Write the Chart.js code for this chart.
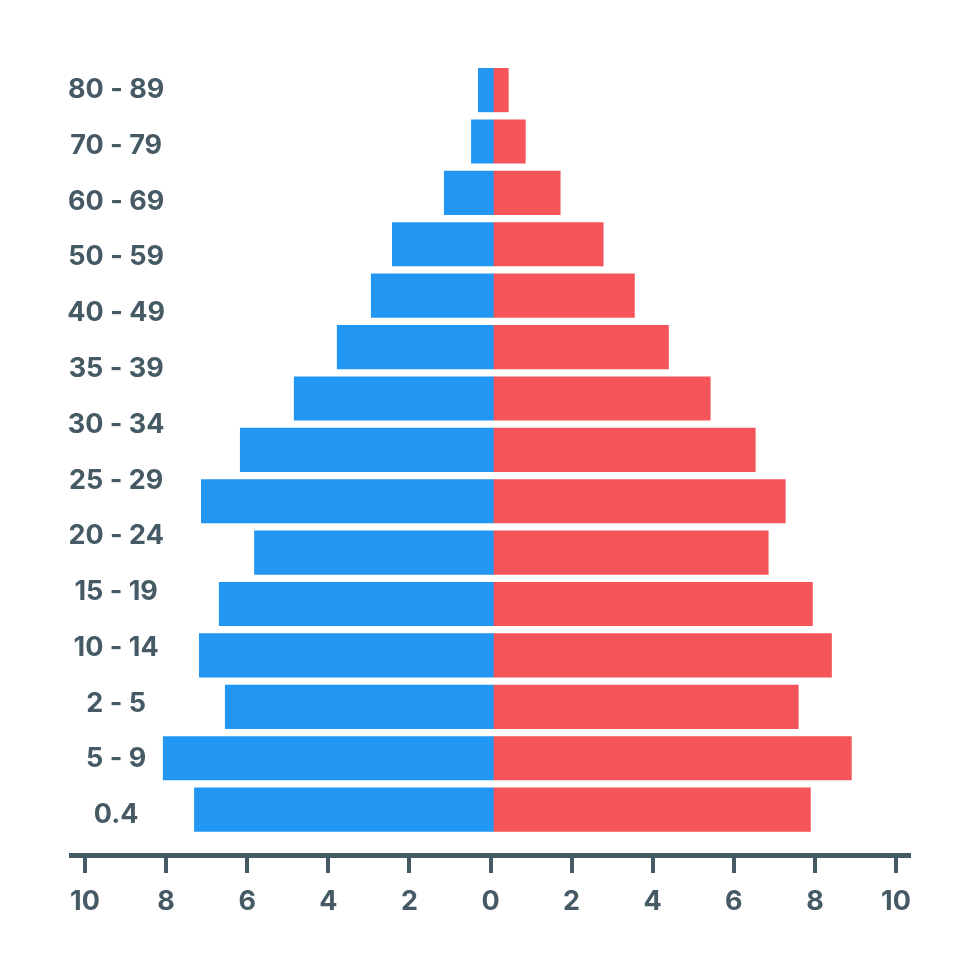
<!DOCTYPE html>
<html>
<head>
<meta charset="utf-8">
<script src="https://cdn.jsdelivr.net/npm/chart.js@4"></script>
<style>
    html, body { margin: 0; padding: 0; background: #fff; }
    canvas { display: block; }
</style>
</head>
<body>
<canvas id="pyramid" width="980" height="980"></canvas>
<script>
// age labels: there are 14 of them but 15 bars in the picture, they do not line up
const AGE_LABELS = ["80 - 89", "70 - 79", "60 - 69", "50 - 59", "40 - 49", "35 - 39", "30 - 34",
    "25 - 29", "20 - 24", "15 - 19", "10 - 14", "2 - 5", "5 - 9", "0.4"];
const BLUE_VALUES = [0.37, 0.54, 1.21, 2.49, 3.01, 3.85, 4.91, 6.24, 7.2, 5.89, 6.76, 7.25, 6.61, 8.14, 7.37];
const RED_VALUES = [0.37, 0.79, 1.65, 2.71, 3.48, 4.32, 5.35, 6.46, 7.2, 6.78, 7.87, 8.34, 7.52, 8.83, 7.82];
const X_TICKS = [-10, -8, -6, -4, -2, 0, 2, 4, 6, 8, 10];

const TEXT_COLOR = "#455a64";
const FONT = { family: "Inter", size: 27, weight: "bold" };

const toBars = (values, sign)=>values.map((v, i)=>({ x: sign * v, y: i }));

// the age labels sit over the chart area, so give their axis its box back after layout
const labelBoxPlugin = {
    id: "labelBox",
    afterLayout: (chart)=>{
        const scale = chart.scales.yLabels;
        scale.left = 0;
        scale.right = 165;
    },
};

const createChart = ()=>{
    const canvas = document.querySelector("#pyramid");
    new Chart(canvas, {
        type: "bar",
        plugins: [labelBoxPlugin],
        data: {
            datasets: [
                { label: "Left", data: toBars(BLUE_VALUES, -1), backgroundColor: "#2196f3", xAxisID: "xBars", yAxisID: "yBars", grouped: false, barThickness: 43.5 },
                { label: "Right", data: toBars(RED_VALUES, 1), backgroundColor: "#f55459", xAxisID: "xBars", yAxisID: "yBars", grouped: false, barThickness: 43.5 },
            ],
        },
        options: {
            indexAxis: "y",
            responsive: false,
            animation: false,
            layout: { padding: { left: 71, right: 71, top: 40, bottom: 65 } },
            plugins: { legend: { display: false }, tooltip: { enabled: false } },
            scales: {
                // the visible axis has its zero a little left of the bars' zero
                x: {
                    type: "linear",
                    position: "bottom",
                    min: -10.345,
                    max: 10.32,
                    grid: { drawOnChartArea: false, color: TEXT_COLOR, lineWidth: 4, tickLength: 18 },
                    border: { color: TEXT_COLOR, width: 5 },
                    ticks: {
                        color: TEXT_COLOR, font: FONT, padding: 13, maxRotation: 0, autoSkip: false,
                        callback: (v)=>Math.abs(v),
                    },
                    afterBuildTicks: (scale)=>{ scale.ticks = X_TICKS.map((v)=>({ value: v })); },
                    afterFit: (scale)=>{ scale.height = 60; },
                },
                xBars: { type: "linear", axis: "x", display: false, min: -10.414, max: 10.251 },
                yBars: { type: "linear", axis: "y", display: false, offset: false, reverse: true, min: -0.975, max: 14.883 },
                yLabels: {
                    type: "linear",
                    axis: "y",
                    position: "left",
                    offset: false,
                    reverse: true,
                    min: -0.896,
                    max: 13.717,
                    grid: { display: false, drawTicks: false },
                    border: { display: false },
                    ticks: {
                        color: TEXT_COLOR, font: FONT, autoSkip: false, crossAlign: "center", padding: 0,
                        callback: (v)=>AGE_LABELS[v],
                    },
                    afterBuildTicks: (scale)=>{ scale.ticks = AGE_LABELS.map((_, i)=>({ value: i })); },
                    afterFit: (scale)=>{ scale.width = 0; },
                },
            },
        },
    });
};

createChart();
</script>
</body>
</html>
